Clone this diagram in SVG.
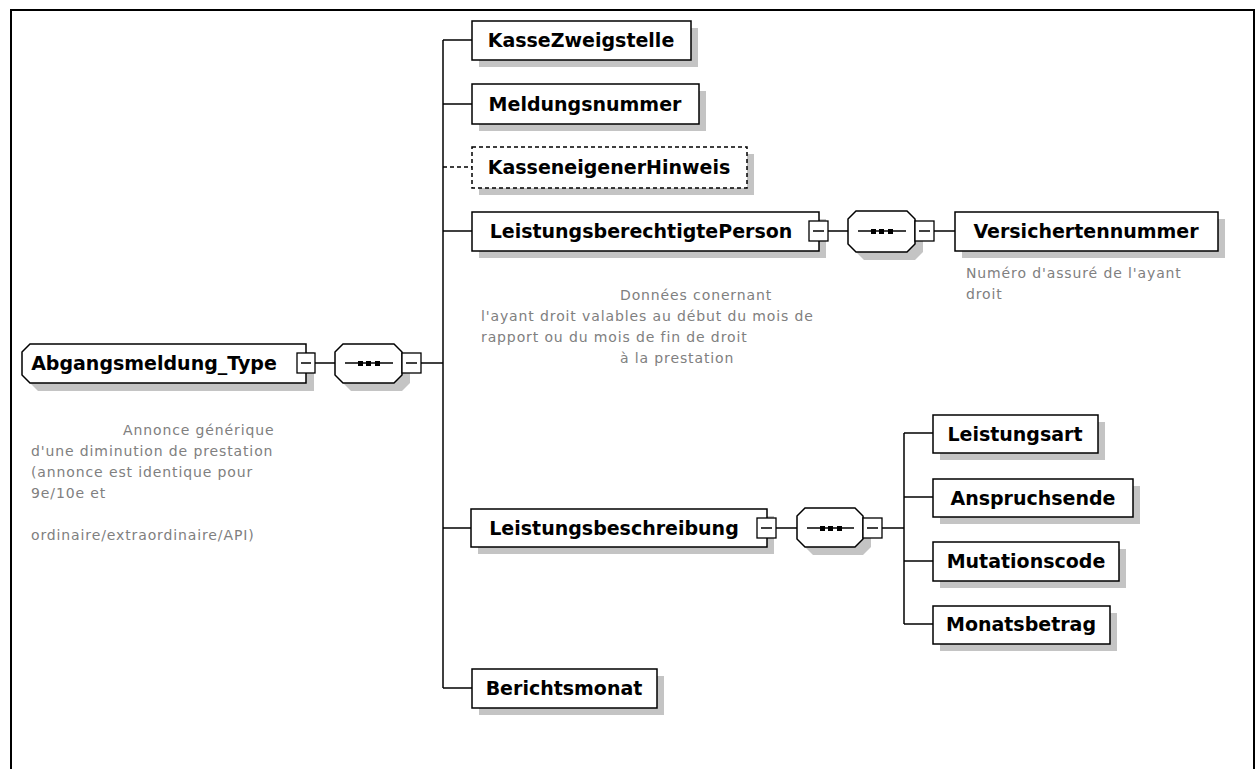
<svg xmlns="http://www.w3.org/2000/svg" width="1256" height="769" viewBox="0 0 1256 769">
<defs>
<style>
.box{fill:#fff;stroke:#000;stroke-width:1.5}
.dash{fill:#fff;stroke:#000;stroke-width:1.5;stroke-dasharray:4 3}
.sh{fill:#c4c4c4}
.lbl{font-family:"DejaVu Sans",Verdana,sans-serif;font-weight:bold;font-size:19px;fill:#000;text-anchor:middle}
.ann{font-family:"DejaVu Sans",Verdana,sans-serif;font-size:14px;letter-spacing:0.88px;fill:#808080}
.ln{stroke:#000;stroke-width:1.5;fill:none}
.lnd{stroke:#000;stroke-width:1.5;fill:none;stroke-dasharray:4 3}
.sq{fill:#fff;stroke:#000;stroke-width:1.3}
</style>
</defs>
<rect width="1256" height="769" fill="#fff"/>
<path d="M11,769 V10 H1254 V769" fill="none" stroke="#000" stroke-width="2"/>

<g id="connectors">
<line class="ln" x1="315" y1="363" x2="335" y2="363"/>
<line class="ln" x1="421" y1="363" x2="443" y2="363"/>
<line class="ln" x1="443" y1="40" x2="443" y2="688"/>
<line class="ln" x1="443" y1="40" x2="472" y2="40"/>
<line class="ln" x1="443" y1="104" x2="472" y2="104"/>
<line class="lnd" x1="443" y1="167" x2="472" y2="167"/>
<line class="ln" x1="443" y1="231" x2="472" y2="231"/>
<line class="ln" x1="443" y1="528" x2="472" y2="528"/>
<line class="ln" x1="443" y1="688" x2="472" y2="688"/>
<line class="ln" x1="828" y1="231" x2="848" y2="231"/>
<line class="ln" x1="934" y1="231" x2="955" y2="231"/>
<line class="ln" x1="776" y1="528" x2="797" y2="528"/>
<line class="ln" x1="882" y1="528" x2="904" y2="528"/>
<line class="ln" x1="904" y1="433" x2="904" y2="624"/>
<line class="ln" x1="904" y1="433" x2="933" y2="433"/>
<line class="ln" x1="904" y1="497" x2="933" y2="497"/>
<line class="ln" x1="904" y1="561" x2="933" y2="561"/>
<line class="ln" x1="904" y1="624" x2="933" y2="624"/>
</g>

<g id="root">
<polygon class="sh" points="30,360 38,352 314,352 314,391 38,391 30,383"/>
<polygon class="box" points="22,352 30,344 306,344 306,383 30,383 22,375"/>
<text class="lbl" x="154" y="370">Abgangsmeldung_Type</text>
<rect class="sq" x="297" y="353" width="18" height="20"/>
<line class="ln" x1="301" y1="363" x2="311" y2="363"/>
<text class="ann" x="123" y="435">Annonce générique</text>
<text class="ann" x="31" y="456">d'une diminution de prestation</text>
<text class="ann" x="31" y="477">(annonce est identique pour</text>
<text class="ann" x="31" y="498">9e/10e et</text>
<text class="ann" x="31" y="540">ordinaire/extraordinaire/API)</text>
</g>

<g id="seq-root">
<polygon class="sh" points="343,360 351,352 402,352 410,360 410,383 402,391 351,391 343,383"/>
<polygon class="box" points="335,352 343,344 394,344 402,352 402,375 394,383 343,383 335,375"/>
<line class="ln" x1="345" y1="363" x2="393" y2="363"/>
<rect x="358" y="361" width="5" height="5" fill="#000"/>
<rect x="366" y="361" width="5" height="5" fill="#000"/>
<rect x="375" y="361" width="5" height="5" fill="#000"/>
<rect class="sq" x="402" y="353" width="19" height="20"/>
<line class="ln" x1="406" y1="363" x2="417" y2="363"/>
</g>

<g id="KasseZweigstelle">
<rect class="sh" x="479" y="28" width="219" height="39"/>
<rect class="box" x="472" y="21" width="219" height="39"/>
<text class="lbl" x="581" y="47">KasseZweigstelle</text>
</g>

<g id="Meldungsnummer">
<rect class="sh" x="479" y="91" width="227" height="40"/>
<rect class="box" x="472" y="84" width="227" height="40"/>
<text class="lbl" x="585" y="111">Meldungsnummer</text>
</g>

<g id="KasseneigenerHinweis">
<rect class="sh" x="479" y="154" width="275" height="41"/>
<rect class="dash" x="472" y="147" width="275" height="41"/>
<text class="lbl" x="609" y="174">KasseneigenerHinweis</text>
</g>

<g id="LeistungsberechtigtePerson">
<rect class="sh" x="479" y="219" width="347" height="39"/>
<rect class="box" x="472" y="212" width="347" height="39"/>
<text class="lbl" x="641" y="238">LeistungsberechtigtePerson</text>
<rect class="sq" x="809" y="221" width="19" height="20"/>
<line class="ln" x1="813" y1="231" x2="824" y2="231"/>
<text class="ann" x="620" y="300">Données conernant</text>
<text class="ann" x="481" y="321">l'ayant droit valables au début du mois de</text>
<text class="ann" x="481" y="342">rapport ou du mois de fin de droit</text>
<text class="ann" x="620" y="363">à la prestation</text>
</g>

<g id="seq-LBP">
<polygon class="sh" points="856,227 864,219 915,219 923,227 923,252 915,260 864,260 856,252"/>
<polygon class="box" points="848,219 856,211 907,211 915,219 915,244 907,252 856,252 848,244"/>
<line class="ln" x1="858" y1="231" x2="906" y2="231"/>
<rect x="871" y="229" width="5" height="5" fill="#000"/>
<rect x="879" y="229" width="5" height="5" fill="#000"/>
<rect x="888" y="229" width="5" height="5" fill="#000"/>
<rect class="sq" x="915" y="221" width="19" height="20"/>
<line class="ln" x1="919" y1="231" x2="930" y2="231"/>
</g>

<g id="Versichertennummer">
<rect class="sh" x="962" y="219" width="263" height="39"/>
<rect class="box" x="955" y="212" width="263" height="39"/>
<text class="lbl" x="1086" y="238">Versichertennummer</text>
<text class="ann" x="966" y="278">Numéro d'assuré de l'ayant</text>
<text class="ann" x="966" y="299">droit</text>
</g>

<g id="Leistungsbeschreibung">
<rect class="sh" x="478" y="516" width="296" height="38"/>
<rect class="box" x="471" y="509" width="296" height="38"/>
<text class="lbl" x="614" y="535">Leistungsbeschreibung</text>
<rect class="sq" x="757" y="518" width="19" height="20"/>
<line class="ln" x1="761" y1="528" x2="772" y2="528"/>
</g>

<g id="seq-LB">
<polygon class="sh" points="805,524 813,516 863,516 871,524 871,547 863,555 813,555 805,547"/>
<polygon class="box" points="797,516 805,508 855,508 863,516 863,539 855,547 805,547 797,539"/>
<line class="ln" x1="807" y1="528" x2="854" y2="528"/>
<rect x="820" y="526" width="5" height="5" fill="#000"/>
<rect x="828" y="526" width="5" height="5" fill="#000"/>
<rect x="837" y="526" width="5" height="5" fill="#000"/>
<rect class="sq" x="863" y="518" width="19" height="20"/>
<line class="ln" x1="867" y1="528" x2="878" y2="528"/>
</g>

<g id="Leistungsart">
<rect class="sh" x="940" y="422" width="165" height="38"/>
<rect class="box" x="933" y="415" width="165" height="38"/>
<text class="lbl" x="1015" y="441">Leistungsart</text>
</g>

<g id="Anspruchsende">
<rect class="sh" x="940" y="486" width="200" height="38"/>
<rect class="box" x="933" y="479" width="200" height="38"/>
<text class="lbl" x="1033" y="505">Anspruchsende</text>
</g>

<g id="Mutationscode">
<rect class="sh" x="940" y="549" width="186" height="39"/>
<rect class="box" x="933" y="542" width="186" height="39"/>
<text class="lbl" x="1026" y="568">Mutationscode</text>
</g>

<g id="Monatsbetrag">
<rect class="sh" x="940" y="613" width="177" height="38"/>
<rect class="box" x="933" y="606" width="177" height="38"/>
<text class="lbl" x="1021" y="631">Monatsbetrag</text>
</g>

<g id="Berichtsmonat">
<rect class="sh" x="479" y="676" width="185" height="39"/>
<rect class="box" x="472" y="669" width="185" height="39"/>
<text class="lbl" x="564" y="695">Berichtsmonat</text>
</g>
</svg>
